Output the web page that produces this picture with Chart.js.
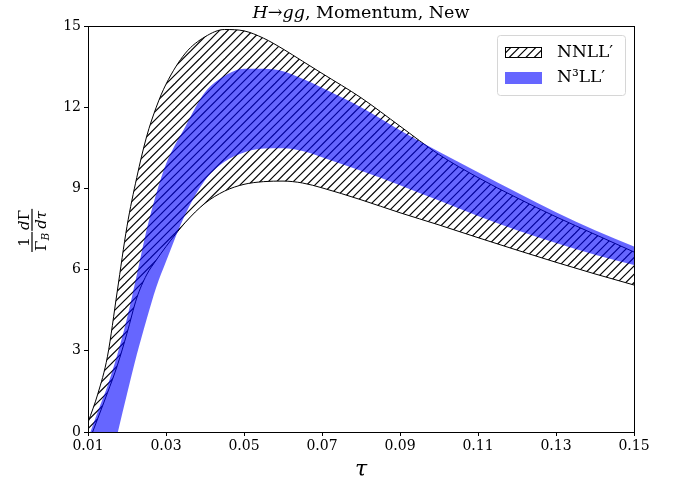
<!DOCTYPE html>
<html>
<head>
<meta charset="utf-8">
<script src="https://cdn.jsdelivr.net/npm/chart.js@4.4.1/dist/chart.umd.min.js"></script>
<style>
  html, body { margin: 0; padding: 0; background: #fff; }
  #wrap { width: 680px; height: 480px; }
</style>
</head>
<body>
<div id="wrap"><canvas id="c" width="680" height="480"></canvas></div>
<script>
// ----- data -----
const tau = [0.01, 0.0125, 0.015, 0.0175, 0.02, 0.0225, 0.025, 0.0275, 0.03, 0.035,
             0.04, 0.045, 0.05, 0.055, 0.06, 0.065, 0.07, 0.08, 0.09, 0.10,
             0.11, 0.12, 0.13, 0.14, 0.15];

// NNLL' band (hatched)
const nnllHigh = [0.35, 1.4, 2.8, 5.2, 7.6, 9.4, 10.9, 12.0, 12.85, 14.0,
                  14.6, 14.87, 14.82, 14.55, 14.15, 13.7, 13.25, 12.35, 11.3, 10.25,
                  9.4, 8.65, 7.95, 7.3, 6.65];
const nnllLow  = [-0.45, 0.5, 1.45, 2.45, 3.65, 4.95, 5.8, 6.35, 6.85, 7.75,
                  8.45, 8.9, 9.15, 9.25, 9.27, 9.2, 9.02, 8.58, 8.1, 7.65,
                  7.18, 6.72, 6.27, 5.84, 5.43];

// N3LL' band (blue)
const n3llHigh = [-0.25, 0.75, 1.7, 2.85, 4.2, 5.8, 7.45, 8.8, 9.9, 11.3,
                  12.55, 13.15, 13.42, 13.42, 13.33, 13.05, 12.72, 12.0, 11.15, 10.35,
                  9.6, 8.85, 8.12, 7.45, 6.85];
const n3llLow  = [-4.7, -3.2, -1.7, -0.1, 1.4, 2.85, 4.15, 5.35, 6.3, 8.05,
                  9.3, 9.98, 10.33, 10.47, 10.48, 10.38, 10.15, 9.65, 9.12, 8.55,
                  7.98, 7.45, 6.98, 6.55, 6.17];

const xTicks = [0.01, 0.03, 0.05, 0.07, 0.09, 0.11, 0.13, 0.15];
const xTickLabels = ["0.01", "0.03", "0.05", "0.07", "0.09", "0.11", "0.13", "0.15"];
const yTicks = [0, 3, 6, 9, 12, 15];

const legendLabels = ["NNLL\u2032", "N\u00b3LL\u2032"];

const SERIF = "'DejaVu Serif', serif";
const BLUE = "rgba(0,0,255,0.6)";

// ----- hatch '//' -----
function makeHatch() {
  const s = 25;
  const c = document.createElement("canvas");
  c.width = s; c.height = s;
  const g = c.getContext("2d");
  g.strokeStyle = "#000";
  g.lineWidth = 1.15;
  const step = s / 3;
  for (let k = 0; k <= 6; k++) {
    const a = k * step;
    g.beginPath();
    g.moveTo(a + 1, -1);
    g.lineTo(a - s - 1, s + 1);
    g.stroke();
  }
  return g.createPattern(c, "repeat");
}
const HATCH = makeHatch();

const pts = (ys) => tau.map((x, i) => ({ x, y: ys[i] }));

// ----- extras: frame, title, y label, legend -----
const extras = {
  id: "extras",
  afterDraw(chart) {
    const ctx = chart.ctx;
    const a = chart.chartArea;
    ctx.save();

    // frame
    ctx.strokeStyle = "#000";
    ctx.lineWidth = 1;
    ctx.strokeRect(Math.round(a.left) + 0.5, Math.round(a.top) + 0.5,
                   Math.round(a.right - a.left), Math.round(a.bottom - a.top));

    // title with italic pieces
    const parts = [["H", "italic"], ["\u2192", "normal"], ["gg", "italic"], [", Momentum, New", "normal"]];
    const tfs = 17.5;
    ctx.fillStyle = "#000";
    ctx.textBaseline = "alphabetic";
    let w = 0;
    parts.forEach(p => { ctx.font = `${p[1]} ${tfs}px ${SERIF}`; w += ctx.measureText(p[0]).width; });
    let x = (a.left + a.right) / 2 - w / 2;
    parts.forEach(p => {
      ctx.font = `${p[1]} ${tfs}px ${SERIF}`;
      ctx.fillText(p[0], x, 18);
      x += ctx.measureText(p[0]).width;
    });

    // y label: 1/Γ_B dΓ/dτ
    ctx.save();
    ctx.translate(32, (a.top + a.bottom) / 2);
    ctx.rotate(-Math.PI / 2);
    const fs = 15;
    const frac = (u0, num, den) => {
      const width = (arr) => arr.reduce((s, t) => { ctx.font = `${t[1]} ${t[2]}px ${SERIF}`; return s + ctx.measureText(t[0]).width; }, 0);
      const wn = width(num), wd = width(den);
      const bw = Math.max(wn, wd) + 2;
      ctx.fillRect(u0, -0.6, bw, 1.2);
      const put = (arr, ww, base) => {
        let uu = u0 + (bw - ww) / 2;
        arr.forEach(t => {
          ctx.font = `${t[1]} ${t[2]}px ${SERIF}`;
          ctx.fillText(t[0], uu, base + (t[3] || 0));
          uu += ctx.measureText(t[0]).width;
        });
      };
      put(num, wn, -3);
      put(den, wd, 3 + fs * 0.73);
      return bw;
    };
    let u = -23;
    u += frac(u, [["1", "normal", fs]], [["\u0393", "normal", fs], ["B", "italic", fs * 0.7, 3]]) + 1;
    frac(u, [["d", "italic", fs], ["\u0393", "normal", fs]], [["d", "italic", fs], ["\u03c4", "italic", fs]]);
    ctx.restore();

    // legend
    const lx = 497, ly = 35, lw = 128, lh = 60;
    ctx.fillStyle = "rgba(255,255,255,0.8)";
    ctx.strokeStyle = "#d6d6d6";
    ctx.lineWidth = 1;
    ctx.beginPath();
    ctx.roundRect(lx + 0.5, ly + 0.5, lw, lh, 3);
    ctx.fill();
    ctx.stroke();

    ctx.fillStyle = "#fff";
    ctx.fillRect(505, 47, 37, 11);
    ctx.fillStyle = HATCH;
    ctx.fillRect(505, 47, 37, 11);
    ctx.strokeStyle = "#000";
    ctx.strokeRect(505.5, 47.5, 36, 10);
    ctx.fillStyle = BLUE;
    ctx.fillRect(505, 72, 37, 12);

    ctx.fillStyle = "#000";
    ctx.font = `normal 17px ${SERIF}`;
    ctx.textBaseline = "middle";
    ctx.fillText(legendLabels[0], 557, 53);
    ctx.fillText(legendLabels[1], 557, 78);
    ctx.restore();
  }
};

const tickFont = { family: SERIF, size: 14 };

new Chart(document.getElementById("c"), {
  type: "line",
  data: {
    datasets: [
      { label: legendLabels[1], data: pts(n3llHigh), fill: "+1", backgroundColor: BLUE,
        borderColor: "transparent", borderWidth: 0, pointRadius: 0, cubicInterpolationMode: "monotone" },
      { label: "n3ll low", data: pts(n3llLow), fill: false,
        borderColor: "transparent", borderWidth: 0, pointRadius: 0, cubicInterpolationMode: "monotone" },
      { label: legendLabels[0], data: pts(nnllHigh), fill: "+1", backgroundColor: HATCH,
        borderColor: "#000", borderWidth: 1, pointRadius: 0, cubicInterpolationMode: "monotone" },
      { label: "nnll low", data: pts(nnllLow), fill: false,
        borderColor: "#000", borderWidth: 1, pointRadius: 0, cubicInterpolationMode: "monotone" },
    ],
  },
  options: {
    responsive: false,
    animation: false,
    layout: { padding: { top: 26, right: 46, left: 0, bottom: 0 } },
    plugins: { legend: { display: false }, tooltip: { enabled: false } },
    scales: {
      x: {
        type: "linear", min: 0.01, max: 0.15,
        afterBuildTicks: (s) => { s.ticks = xTicks.map(v => ({ value: v })); },
        afterFit: (s) => { s.height = 48; },
        ticks: { callback: (v, i) => xTickLabels[i], font: tickFont, color: "#000",
                 padding: 2, maxRotation: 0, autoSkip: false },
        grid: { drawOnChartArea: false, drawTicks: true, tickLength: 4, color: "#000" },
        border: { display: true, color: "#000", width: 1 },
        title: { display: true, text: "\u03c4", color: "#000", padding: { top: 0, bottom: -3 },
                 font: { family: SERIF, size: 22, style: "italic" } },
      },
      y: {
        min: 0, max: 15,
        afterBuildTicks: (s) => { s.ticks = yTicks.map(v => ({ value: v })); },
        afterFit: (s) => { s.width = 88; },
        ticks: { callback: (v) => String(v), font: tickFont, color: "#000", padding: 3 },
        grid: { drawOnChartArea: false, drawTicks: true, tickLength: 4, color: "#000" },
        border: { display: true, color: "#000", width: 1 },
      },
    },
  },
  plugins: [extras],
});
</script>
</body>
</html>
